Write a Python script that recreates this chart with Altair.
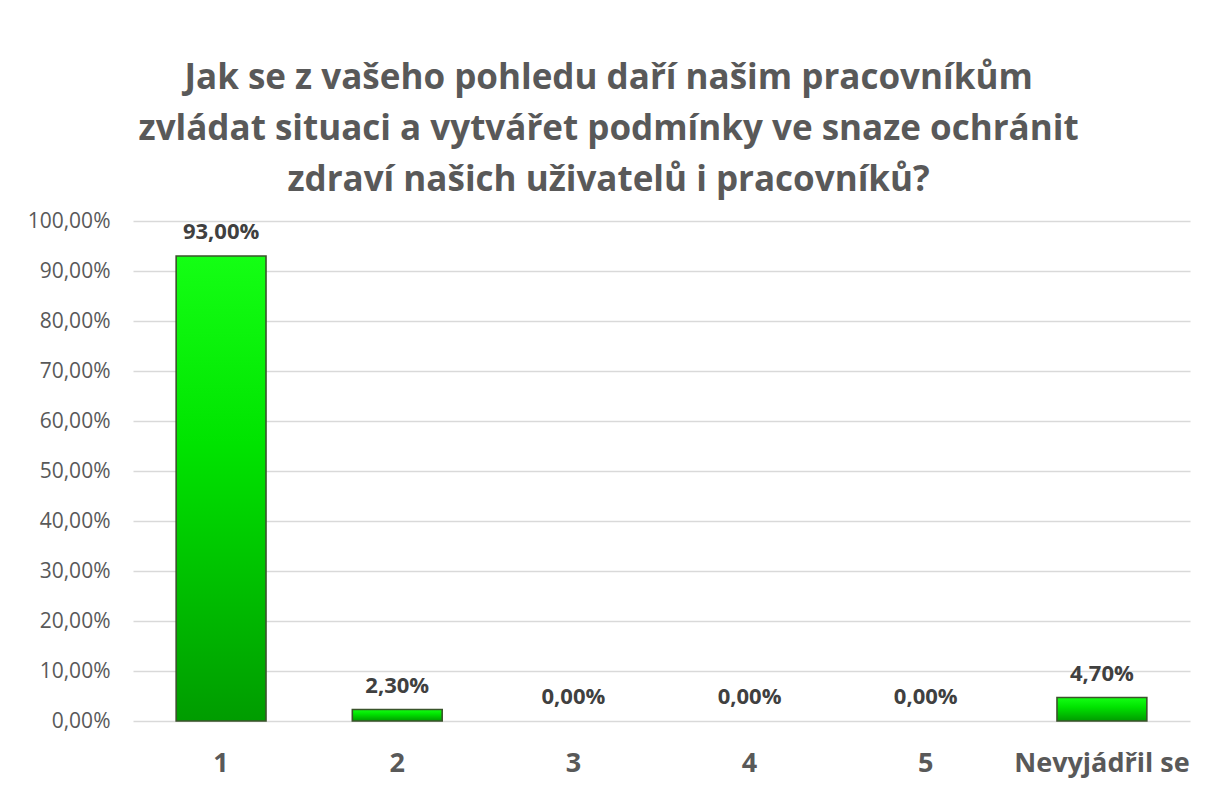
import altair as alt
import pandas as pd

categories = ["1", "2", "3", "4", "5", "Nevyjádřil se"]
shares = [0.93, 0.023, 0.0, 0.0, 0.0, 0.047]
y_ticks = [0.0, 0.1, 0.2, 0.3, 0.4, 0.5, 0.6, 0.7, 0.8, 0.9, 1.0]
title_lines = [
    "Jak se z vašeho pohledu daří našim pracovníkům",
    "zvládat situaci a vytvářet podmínky ve snaze ochránit",
    "zdraví našich uživatelů i pracovníků?",
]

df = pd.DataFrame({"cat": categories, "share": shares})
df["label"] = [f"{v * 100:.2f}".replace(".", ",") + "%" for v in shares]

FONT = "Open Sans"

gradient = alt.Gradient(
    gradient="linear",
    stops=[
        alt.GradientStop(color="#14ff14", offset=0),
        alt.GradientStop(color="#00e400", offset=0.4),
        alt.GradientStop(color="#009c00", offset=1),
    ],
    x1=0, x2=0, y1=0, y2=1,
)

x_enc = alt.X(
    "cat:N",
    sort=categories,
    scale=alt.Scale(paddingInner=0.49, paddingOuter=0.245),
    axis=alt.Axis(
        title=None, labelAngle=0, labelFont=FONT, labelFontSize=27,
        labelFontWeight="bold", labelColor="#595959", ticks=False,
        domain=False, labelPadding=29, grid=False,
    ),
)
y_enc = alt.Y(
    "share:Q",
    scale=alt.Scale(domain=[0, 1], nice=False),
    axis=alt.Axis(
        title=None, values=y_ticks,
        labelExpr="replace(format(datum.value, '.2%'), '.', ',')",
        labelFont=FONT, labelFontSize=21, labelColor="#595959",
        ticks=False, domain=False, gridColor="#d9d9d9", gridWidth=1.3,
        labelPadding=23,
    ),
)

bars = (
    alt.Chart(df)
    .transform_filter("datum.share > 0")
    .mark_bar(color=gradient, stroke="#3a532b", strokeWidth=1.6)
    .encode(x=x_enc, y=y_enc)
)

labels = (
    alt.Chart(df)
    .mark_text(font=FONT, fontSize=22, fontWeight="bold", color="#404040",
               baseline="alphabetic", dy=-17)
    .encode(x=alt.X("cat:N", sort=categories), y="share:Q", text="label:N")
)

chart = (
    alt.layer(bars, labels)
    .properties(
        width=1057,
        height=500,
        title=alt.TitleParams(
            text=title_lines, font=FONT, fontSize=35, fontWeight="bold",
            color="#595959", lineHeight=51, anchor="middle", frame="bounds",
            offset=12,
        ),
        autosize=alt.AutoSizeParams(type="none"),
        padding={"left": 125, "top": 213, "right": 10, "bottom": 60},
    )
    .configure_view(stroke=None)
)

chart.save("out.html", embed_options={"renderer": "svg", "actions": False})
